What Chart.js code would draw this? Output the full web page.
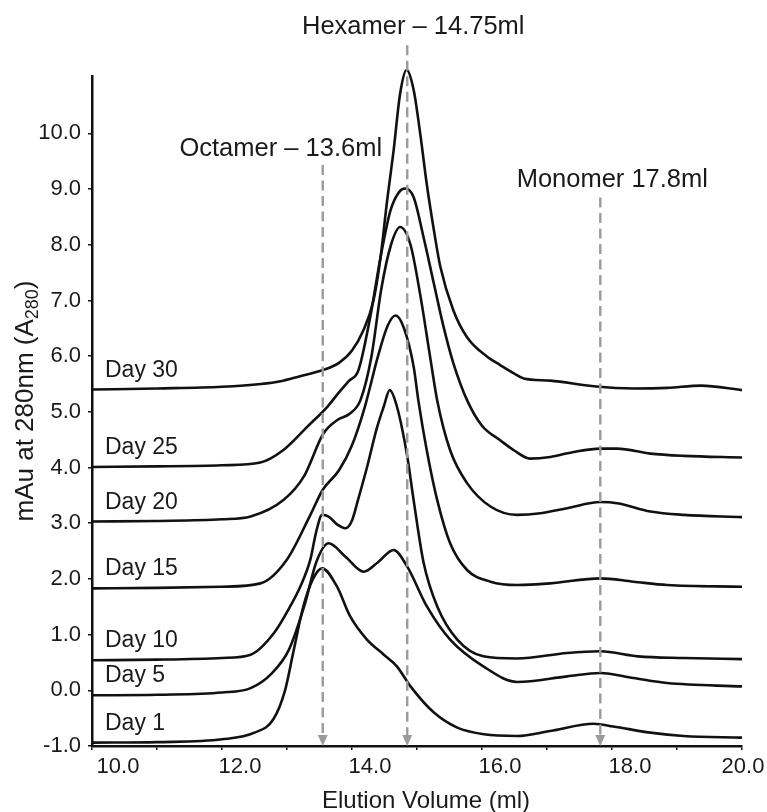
<!DOCTYPE html>
<html><head><meta charset="utf-8">
<script src="https://cdn.jsdelivr.net/npm/chart.js@4.4.1/dist/chart.umd.min.js"></script>
<style>html,body{margin:0;padding:0;background:#fff;}#wrap{width:767px;height:812px;}</style>
</head><body><div id="wrap"><canvas id="c" width="767" height="812"></canvas></div>
<script>
const FONT = "'Liberation Sans', Arial, Helvetica, sans-serif";

// ---- data (elution volume in ml, absorbance mAu) ----
const seriesNames = ['Day 1','Day 5','Day 10','Day 15','Day 20','Day 25','Day 30'];

const day1X = [10,11,12,12.5,12.79,12.97,13.1,13.25,13.4,13.54,13.77,13.97,14.23,14.49,14.69,14.9,15.26,15.62,16.03,16.54,17.05,17.72,18.02,18.59,19.1,20];
const day1Y = [-0.94,-0.93,-0.88,-0.76,-0.52,0.0,0.7,1.5,2.0,2.19,1.86,1.33,0.91,0.64,0.43,0.07,-0.40,-0.67,-0.79,-0.82,-0.73,-0.60,-0.65,-0.76,-0.82,-0.85];

const day5X = [10,11,12,12.44,12.77,13.03,13.28,13.45,13.64,13.9,14.18,14.4,14.64,14.85,15.15,15.51,16.02,16.54,17.31,17.82,18.33,18.85,20];
const day5Y = [-0.09,-0.08,-0.04,0.04,0.31,0.73,1.57,2.3,2.64,2.4,2.13,2.3,2.52,2.22,1.51,0.91,0.43,0.15,0.25,0.31,0.22,0.13,0.07];

const day10X = [10,11,12,12.44,12.8,13.05,13.2,13.36,13.45,13.54,13.64,13.77,13.9,14.0,14.1,14.23,14.38,14.49,14.58,14.69,14.85,14.95,15.10,15.31,15.62,16.02,16.54,17.31,17.82,18.4,19.1,20];
const day10Y = [0.54,0.55,0.58,0.64,1.03,1.51,1.85,2.35,2.85,3.15,3.12,2.98,2.91,3.05,3.45,4.0,4.7,5.1,5.39,5.1,4.2,3.4,2.3,1.51,0.91,0.61,0.57,0.67,0.70,0.61,0.58,0.56];

const day15X = [10,11,12,12.59,13.0,13.36,13.55,13.8,14.0,14.2,14.4,14.55,14.67,14.8,14.95,15.02,15.15,15.31,15.51,15.77,16.13,16.54,17.05,17.82,18.33,18.85,20];
const day15Y = [1.83,1.84,1.86,1.92,2.35,3.15,3.6,3.95,4.4,5.1,6.0,6.55,6.73,6.5,5.8,5.21,4.31,3.42,2.64,2.16,1.95,1.89,1.92,2.01,1.95,1.89,1.86];

const day20X = [10,11,12,12.44,12.95,13.26,13.56,13.77,13.97,14.13,14.3,14.45,14.6,14.74,14.9,15.05,15.2,15.31,15.51,15.77,16.13,16.54,16.9,17.31,17.82,18.08,18.59,19.1,20];
const day20Y = [3.03,3.04,3.07,3.12,3.42,3.84,4.61,4.85,4.97,5.21,6.0,7.2,8.0,8.32,8.0,7.1,6.0,5.21,4.31,3.72,3.30,3.15,3.18,3.27,3.38,3.36,3.21,3.15,3.11];

const day25X = [10,11,12,12.59,12.94,13.31,13.62,13.8,13.95,14.1,14.28,14.44,14.59,14.72,14.82,14.95,15.10,15.26,15.41,15.56,15.77,16.0,16.28,16.49,16.74,17.05,17.41,17.82,18.08,18.59,19.1,20];
const day25Y = [4.01,4.02,4.04,4.09,4.31,4.73,5.09,5.35,5.55,5.75,6.70,7.78,8.61,8.94,9.01,8.85,8.14,7.30,6.52,5.87,5.21,4.75,4.49,4.31,4.16,4.19,4.28,4.34,4.34,4.25,4.21,4.18];

const day30X = [10,11,12,12.6,12.9,13.2,13.55,13.8,14.0,14.17,14.33,14.44,14.54,14.64,14.74,14.84,14.95,15.05,15.15,15.26,15.36,15.56,15.77,16.08,16.28,16.49,16.64,17.05,17.72,18.33,18.85,19.37,20];
const day30Y = [5.40,5.42,5.45,5.50,5.55,5.64,5.75,5.88,6.10,6.45,7.00,7.78,8.79,9.69,10.71,11.14,10.77,9.99,9.09,8.26,7.60,6.82,6.34,5.99,5.84,5.69,5.60,5.56,5.46,5.42,5.43,5.47,5.39];

const yTickValues = [-1,0,1,2,3,4,5,6,7,8,9,10];
const xTickValues = [10,11,12,13,14,15,16,17,18,19,20];
const xLabelValues = [10,12,14,16,18,20];

const markerNames = ['Octamer \u2013 13.6ml','Hexamer \u2013 14.75ml','Monomer 17.8ml'];
const markerX = [13.55,14.85,17.82];
const markerTop = [9.43,11.58,8.85];

const yTitleMain = 'mAu at 280nm (A';
const yTitleSub = '280';
const yTitleEnd = ')';
const xTitle = 'Elution Volume (ml)';

// ---- styles (not data) ----
const xLabelShift = [26,18,18,18,18,1];
const markerTextDX = [-42,6,12];
const markerTextDY = [-9,-11,-10];

const allX = [day1X,day5X,day10X,day15X,day20X,day25X,day30X];
const allY = [day1Y,day5Y,day10Y,day15Y,day20Y,day25Y,day30Y];

const datasets = seriesNames.map((name,i)=>({
  label: name,
  data: allX[i].map((x,j)=>({x:x, y:allY[i][j]})),
  borderColor: '#111',
  borderWidth: 2.6,
  pointRadius: 0,
  fill: false,
  cubicInterpolationMode: 'monotone',
  clip: false
}));

const annot = {
  id: 'annot',
  afterDatasetsDraw(chart){
    const ctx = chart.ctx, xs = chart.scales.x, ys = chart.scales.y;
    ctx.save();
    markerX.forEach((mx,i)=>{
      const px = xs.getPixelForValue(mx);
      const top = ys.getPixelForValue(markerTop[i]);
      const bot = ys.bottom;
      ctx.strokeStyle = '#9b9b9b';
      ctx.lineWidth = 2.4;
      ctx.setLineDash([10,5.5]);
      ctx.beginPath(); ctx.moveTo(px, top); ctx.lineTo(px, bot-8); ctx.stroke();
      ctx.setLineDash([]);
      ctx.fillStyle = '#9b9b9b';
      ctx.beginPath(); ctx.moveTo(px-5, bot-11); ctx.lineTo(px+5, bot-11); ctx.lineTo(px, bot); ctx.closePath(); ctx.fill();
      ctx.fillStyle = '#1a1a1a';
      ctx.font = '25.5px ' + FONT;
      ctx.textAlign = 'center'; ctx.textBaseline = 'alphabetic';
      ctx.fillText(markerNames[i], px + markerTextDX[i], top + markerTextDY[i]);
    });
    ctx.fillStyle = '#1a1a1a';
    ctx.font = '23px ' + FONT;
    ctx.textAlign = 'left'; ctx.textBaseline = 'alphabetic';
    seriesNames.forEach((name,i)=>{
      const py = ys.getPixelForValue(allY[i][0]);
      ctx.fillText(name, xs.getPixelForValue(allX[i][0]) + 13, py - 13);
    });
    ctx.font = '22px ' + FONT;
    ctx.textAlign = 'center'; ctx.textBaseline = 'middle';
    xLabelValues.forEach((v,i)=>{
      ctx.fillText(v.toFixed(1), xs.getPixelForValue(v) + xLabelShift[i], ys.bottom + 21);
    });
    ctx.font = '24px ' + FONT;
    ctx.textBaseline = 'alphabetic';
    ctx.fillText(xTitle, (xs.left + xs.right)/2 + 9, 808);
    const big = '26px ' + FONT, small = '18px ' + FONT;
    ctx.font = big; const w1 = ctx.measureText(yTitleMain).width, w3 = ctx.measureText(yTitleEnd).width;
    ctx.font = small; const w2 = ctx.measureText(yTitleSub).width;
    const total = w1 + w2 + w3;
    ctx.translate(33, (ys.top + ys.bottom)/2 - 10);
    ctx.rotate(-Math.PI/2);
    ctx.textAlign = 'left';
    let x0 = -total/2;
    ctx.font = big; ctx.fillText(yTitleMain, x0, 0); x0 += w1;
    ctx.font = small; ctx.fillText(yTitleSub, x0, 5); x0 += w2;
    ctx.font = big; ctx.fillText(yTitleEnd, x0, 0);
    ctx.restore();
  }
};

new Chart(document.getElementById('c'), {
  type: 'line',
  data: { datasets },
  options: {
    responsive: false,
    devicePixelRatio: 1,
    animation: false,
    layout: { padding: { top: 76, right: 25, left: 0, bottom: 0 } },
    plugins: { legend: { display: false }, tooltip: { enabled: false } },
    scales: {
      x: {
        type: 'linear', min: 10, max: 20,
        afterBuildTicks(s){ s.ticks = xTickValues.map(v=>({value:v})); },
        afterFit(s){ s.height = 66; },
        ticks: { callback: ()=>'', font: { size: 1 } },
        grid: { display: true, drawOnChartArea: false, drawTicks: true, tickLength: 4, color: '#111', lineWidth: 1.5 },
        border: { display: true, color: '#111', width: 2.5 }
      },
      y: {
        type: 'linear', min: -1, max: 11.03,
        afterBuildTicks(s){ s.ticks = yTickValues.map(v=>({value:v})); },
        afterFit(s){ s.width = 92; },
        ticks: { callback: v => Number(v).toFixed(1), color: '#1a1a1a', padding: 7, font: { size: 22, family: FONT } },
        grid: { display: true, drawOnChartArea: false, drawTicks: true, tickLength: 4, color: '#111', lineWidth: 1.5 },
        border: { display: true, color: '#111', width: 2.5 }
      }
    }
  },
  plugins: [annot]
});
</script>
</body></html>
